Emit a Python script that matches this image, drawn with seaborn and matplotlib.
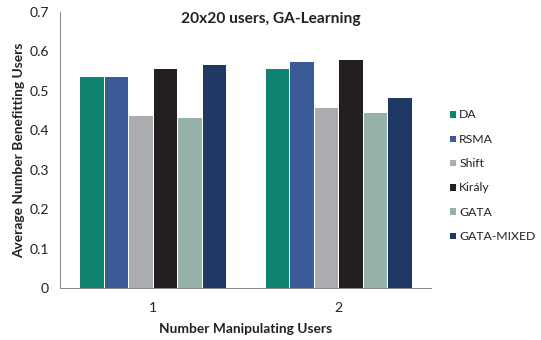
import numpy as np
import pandas as pd
import matplotlib
matplotlib.use("Agg")
import matplotlib.pyplot as plt
import seaborn as sns

manipulators = ["1", "2"]
methods = ["DA", "RSMA", "Shift", "Király", "GATA", "GATA-MIXED"]
values_1 = [0.538, 0.538, 0.438, 0.558, 0.434, 0.568]
values_2 = [0.558, 0.576, 0.458, 0.582, 0.446, 0.484]
colors = ["#0E8470", "#3A5A98", "#ABACAF", "#231F20", "#95B3AA", "#203864"]
y_ticks = [0, 0.1, 0.2, 0.3, 0.4, 0.5, 0.6, 0.7]
y_tick_labels = ["0", "0.1", "0.2", "0.3", "0.4", "0.5", "0.6", "0.7"]

df = pd.DataFrame({
    "users": np.repeat(manipulators, len(methods)),
    "method": methods * len(manipulators),
    "value": values_1 + values_2,
})

sns.set_style("white")
plt.rcParams["font.family"] = ["Lato", "DejaVu Sans"]

dpi = 72
fig = plt.figure(figsize=(541 / dpi, 340 / dpi), dpi=dpi)
ax = fig.add_axes([60 / 541, 1 - 288 / 340, 371 / 541, 276 / 340])

sns.barplot(data=df, x="users", y="value", hue="method", hue_order=methods,
            palette=colors, width=0.79, edgecolor="white", linewidth=1.0,
            saturation=1, ax=ax)

ax.set_ylim(0, 0.7)
ax.set_xlim(-0.5, 1.5)
ax.set_yticks(y_ticks)
ax.set_yticklabels(y_tick_labels)
ax.set_xticks([0, 1])
ax.set_xticklabels(manipulators)
ax.set_xticks([-0.5, 0.5, 1.5], minor=True)
ax.tick_params(axis="x", which="major", length=0, pad=14, labelsize=14, colors="#222222")
ax.tick_params(axis="x", which="minor", length=5, color="#888888", direction="out")
ax.tick_params(axis="y", length=5, color="#888888", direction="out", labelsize=14,
               colors="#222222", pad=6)
for side in ["top", "right"]:
    ax.spines[side].set_visible(False)
for side in ["left", "bottom"]:
    ax.spines[side].set_color("#888888")
    ax.spines[side].set_linewidth(1.0)

ax.set_xlabel("Number Manipulating Users", fontsize=13.7, fontweight="bold",
              color="#222222", labelpad=9)
ax.set_ylabel("Average Number Benefitting Users", fontsize=13.7, fontweight="bold",
              color="#222222", labelpad=4)
fig.suptitle("20x20 users, GA-Learning", fontsize=15.5, fontweight="bold",
             color="#222222", x=0.5, y=1 - 12 / 340, va="top")

handles, labels = ax.get_legend_handles_labels()
ax.legend(handles, labels, loc="upper left", bbox_to_anchor=(1.035, 0.665),
          frameon=False, fontsize=12.3, handlelength=0.55, handleheight=0.55,
          handletextpad=0.3, labelspacing=1.08, labelcolor="#222222",
          borderaxespad=0)

fig.savefig("out.png", dpi=dpi)
